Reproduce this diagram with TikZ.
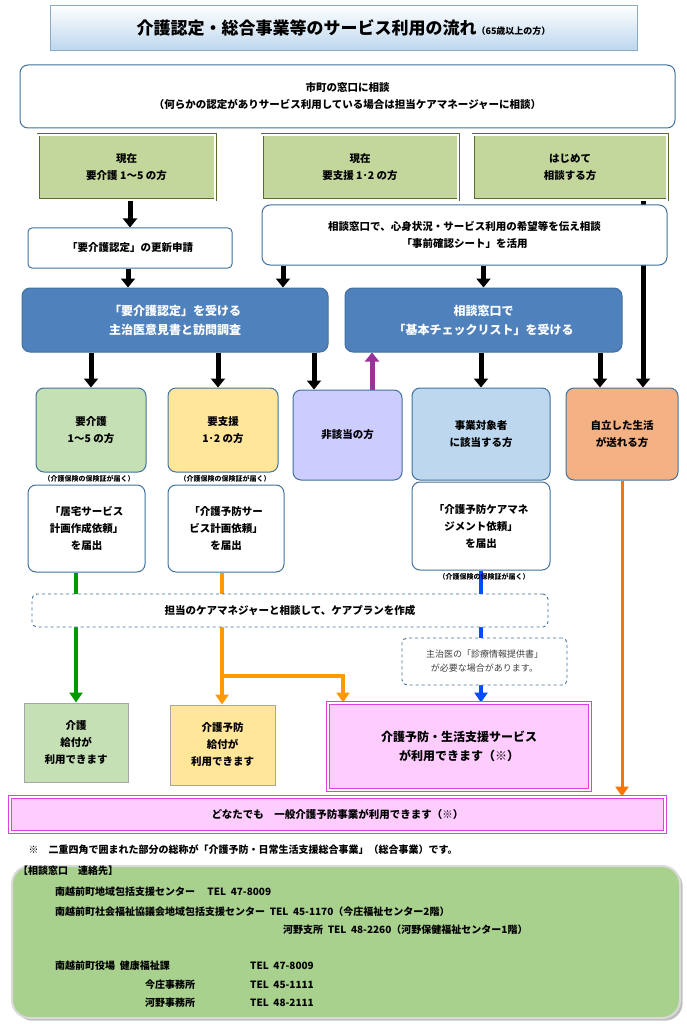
\documentclass[tikz,border=0pt]{standalone}
\usepackage{fontspec}
\setmainfont{Noto Sans CJK JP}
\usetikzlibrary{arrows.meta, positioning, shadows}
\pgfdeclarelayer{bg}
\pgfsetlayers{bg,main}
\definecolor{olive}{HTML}{C3D69B}
\definecolor{olivedk}{HTML}{5A6B2E}
\definecolor{blbox}{HTML}{4F81BD}
\definecolor{grn}{HTML}{C5E0B4}
\definecolor{ylw}{HTML}{FFE699}
\definecolor{lav}{HTML}{CCCCFF}
\definecolor{lbl}{HTML}{BDD7EE}
\definecolor{org}{HTML}{F4B183}
\definecolor{pnk}{HTML}{FFCCFF}
\definecolor{mag}{HTML}{E040E0}
\definecolor{edge}{HTML}{41719C}
\definecolor{contact}{HTML}{A9D18E}
\begin{document}
\begin{tikzpicture}[x=1pt, y=-1pt, font=\fontsize{10.5}{17}\selectfont\bfseries]
 \tikzstyle{box}=[rectangle, rounded corners=8pt, draw=edge, line width=1pt, fill=white, align=center, inner sep=2pt]
 \tikzstyle{gbox}=[rectangle, draw=olivedk, double=white, double distance=1.2pt, line width=0.9pt, fill=olive, align=center]
 \tikzstyle{bluebox}=[box, fill=blbox, text=white, font=\fontsize{12}{19}\selectfont\bfseries]
 \tikzstyle{dbox}=[rectangle, rounded corners=5pt, draw=edge, dashed, line width=0.9pt, fill=white, align=center]
 \tikzstyle{blk}=[draw, line width=5pt, -{Triangle[length=9pt,width=14pt]}]
 \tikzstyle{col}=[draw, line width=4pt, -{Triangle[length=10pt,width=13pt]}]
 \tikzstyle{small}=[font=\fontsize{7}{8}\selectfont\bfseries, inner sep=0pt]
 \useasboundingbox (0,0) rectangle (687,1024);

 \node[rectangle, draw=edge!60, top color=white, bottom color=lbl, minimum width=587pt, minimum height=45pt] (title) at (343.5,27.5)
   {\fontsize{17}{20}\selectfont 介護認定・総合事業等のサービス利用の流れ\fontsize{9}{10}\selectfont（65歳以上の方）};
 \node[box, minimum width=655pt, minimum height=63pt] (madoguchi) at (347.5,96.5)
   {市町の窓口に相談\\（何らかの認定がありサービス利用している場合は担当ケアマネージャーに相談）};
 \node[gbox, minimum width=177pt, minimum height=65pt] (kaigoP) at (126.5,167.5) {現在\\要介護 1～5 の方};
 \node[gbox, minimum width=196pt, minimum height=65pt] (shienP) at (360,167.5) {現在\\要支援 1･2 の方};
 \node[gbox, minimum width=194pt, minimum height=65pt] (hajime) at (570,167.5) {はじめて\\相談する方};
 \node[box, rounded corners=4pt, minimum width=204pt, minimum height=40pt] (koushin) at (130,248) {「要介護認定」の更新申請};
 \node[box, minimum width=405pt, minimum height=60pt] (soudan) at (464.5,235) {相談窓口で、心身状況・サービス利用の希望等を伝え相談\\「事前確認シート」を活用};
 \node[bluebox, minimum width=306pt, minimum height=64pt] (nintei) at (175,320) {「要介護認定」を受ける\\主治医意見書と訪問調査};
 \node[bluebox, minimum width=277pt, minimum height=64pt] (check) at (483.5,320) {相談窓口で\\「基本チェックリスト」を受ける};

 \node[box, fill=grn, minimum width=110pt, minimum height=84pt] (yokaigo) at (91,430) {要介護\\1～5 の方};
 \node[box, fill=ylw, minimum width=110pt, minimum height=84pt] (yoshien) at (223,430) {要支援\\1･2 の方};
 \node[box, fill=lav, minimum width=109pt, minimum height=90pt] (higaito) at (347.5,435) {非該当の方};
 \node[box, fill=lbl, minimum width=138pt, minimum height=92pt] (jigyo) at (481,434) {事業対象者\\に該当する方};
 \node[box, fill=org, minimum width=112pt, minimum height=92pt] (jiritsu) at (622,434) {自立した生活\\が送れる方};
 \node[small] (hoken1) at (89,479) {（介護保険の保険証が届く）};
 \node[small] (hoken2) at (225,479) {（介護保険の保険証が届く）};
 \node[box, minimum width=117pt, minimum height=87pt] (kyotaku) at (86.5,528.5) {「居宅サービス\\計画作成依頼」\\を届出};
 \node[box, minimum width=116pt, minimum height=87pt] (yobo) at (226,528.5) {「介護予防サー\\ビス計画依頼」\\を届出};
 \node[box, minimum width=138pt, minimum height=88pt] (keaman) at (481,526) {「介護予防ケアマネ\\ジメント依頼」\\を届出};
 \node[small] (hoken3) at (484,577) {（介護保険の保険証が届く）};
 \node[dbox, minimum width=516pt, minimum height=33pt] (plan) at (290,610.5) {担当のケアマネジャーと相談して、ケアプランを作成};
 \node[dbox, font=\fontsize{9}{14}\selectfont, text=black!75, minimum width=165pt, minimum height=47pt] (shinryo) at (484.5,661.5) {主治医の「診療情報提供書」\\が必要な場合があります。};

 \node[box, draw=gray!70, fill=grn, rounded corners=0pt, minimum width=104pt, minimum height=79pt] (kyufu) at (76,742.5) {介護\\給付が\\利用できます};
 \node[box, draw=gray!70, fill=ylw, rounded corners=0pt, minimum width=105pt, minimum height=80pt] (yobokyufu) at (222.5,745) {介護予防\\給付が\\利用できます};
 \node[rectangle, draw=mag, double=white, double distance=1.5pt, line width=1pt, fill=pnk, align=center, minimum width=262pt, minimum height=87pt,
   font=\fontsize{12}{19}\selectfont\bfseries] (sogo) at (459,746.5) {介護予防・生活支援サービス\\が利用できます（※）};
 \node[rectangle, draw=mag, double=white, double distance=1.5pt, line width=1pt, fill=pnk, minimum width=655pt, minimum height=35pt] (ippan) at (337.5,814.5)
   {どなたでも　一般介護予防事業が利用できます（※）};
 \node[anchor=west, font=\fontsize{10}{12}\selectfont\bfseries] (chui) at (25,850) {※　二重四角で囲まれた部分の総称が「介護予防・日常生活支援総合事業」（総合事業）です。};

 \node[rectangle, rounded corners=18pt, draw=gray!30, line width=2pt, fill=contact, drop shadow, minimum width=668pt, minimum height=152pt] (renraku) at (346,942) {};
 \begin{scope}[every node/.style={anchor=west, inner sep=0pt, font=\fontsize{10}{12}\selectfont\bfseries}]
  \node (r0) at (18,871) {【相談窓口　連絡先】};
  \node (r1) at (55,892) {南越前町地域包括支援センター　 TEL\ \ 47-8009};
  \node (r2) at (55,912) {南越前町社会福祉協議会地域包括支援センター\ \ TEL\ \ 45-1170（今庄福祉センター2階）};
  \node (r3) at (283,930) {河野支所\ \ TEL\ \ 48-2260（河野保健福祉センター1階）};
  \node (r4) at (55,966) {南越前町役場\ \ 健康福祉課};
  \node (r5) at (145,985) {今庄事務所};
  \node (r6) at (145,1003) {河野事務所};
  \node (t4) at (250,966) {TEL\ \ 47-8009};
  \node (t5) at (250,985) {TEL\ \ 45-1111};
  \node (t6) at (250,1003) {TEL\ \ 48-2111};
 \end{scope}

 \begin{pgfonlayer}{bg}
  \path[blk] (kaigoP.south -| koushin) -- (koushin.north);
  \path[blk] (koushin.south -| 128,0) -- (nintei.north -| 128,0);
  \path[blk] (soudan.south -| 283,0) -- (nintei.north -| 283,0);
  \path[blk] (soudan.south -| check) -- (check.north);
  \path[blk] (nintei.south -| yokaigo) -- (yokaigo.north);
  \path[blk] (nintei.south -| 218,0) -- (yoshien.north -| 218,0);
  \path[blk] (nintei.south -| 314,0) -- (higaito.north -| 314,0);
  \path[blk, draw=violet!80] (higaito.north -| 372,0) -- (check.south -| 372,0);
  \path[blk] (check.south -| jigyo) -- (jigyo.north);
  \path[blk] (check.south -| 600,0) -- (jiritsu.north -| 600,0);
  \path[blk] (hajime.south -| 643,0) -- (jiritsu.north -| 643,0);
  \path[col, draw=green!60!black] (kyotaku.south -| kyufu) -- (kyufu.north);
  \path[col, draw=orange!80!yellow] (yobo.south -| 222,0) -- (yobokyufu.north -| 222,0);
  \coordinate (bunki) at (222,676);
  \path[col, draw=orange!80!yellow] (bunki) -- (343,676) -- (sogo.north -| 343,0);
  \path[col, draw=blue!70!cyan] (keaman.south) -- (sogo.north -| keaman);
  \path[col, line width=3pt, draw=orange!90!red] (jiritsu.south) -- (ippan.north -| jiritsu);
 \end{pgfonlayer}
\end{tikzpicture}
\end{document}
